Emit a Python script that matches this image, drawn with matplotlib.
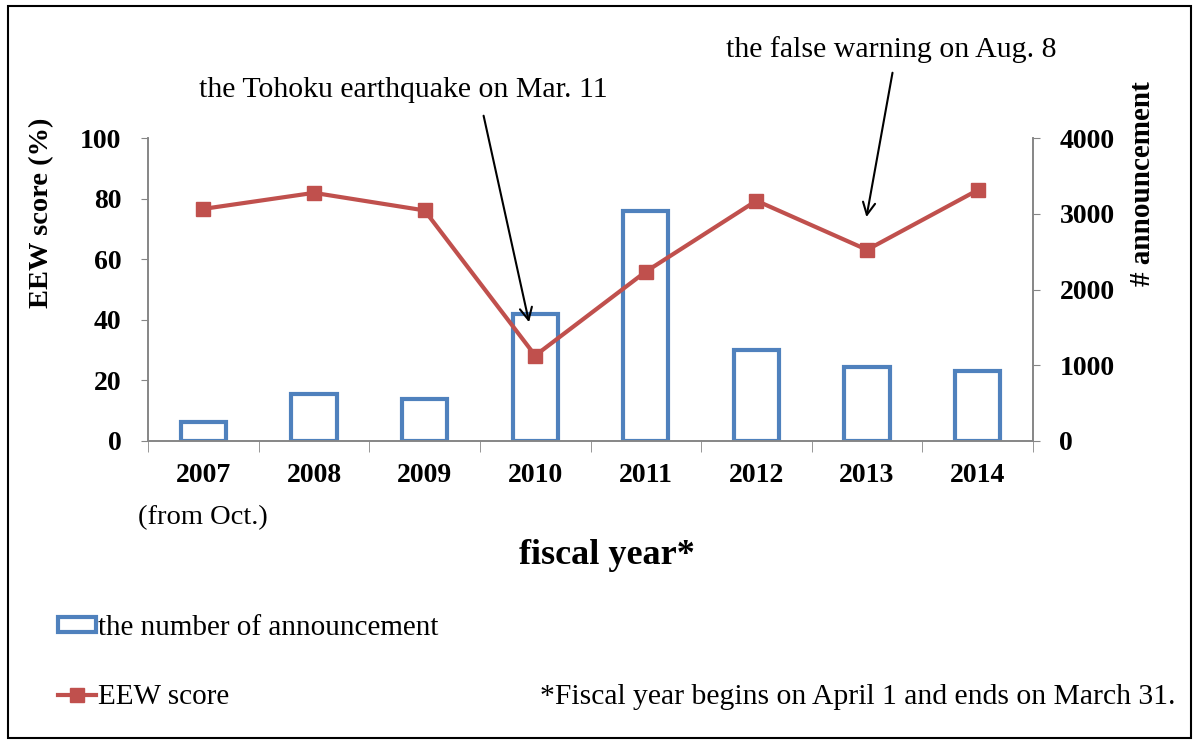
import matplotlib
matplotlib.use("Agg")
import matplotlib.pyplot as plt
from matplotlib.patches import Rectangle
from matplotlib.lines import Line2D

years = ["2007", "2008", "2009", "2010", "2011", "2012", "2013", "2014"]
announcements = [255, 620, 555, 1680, 3040, 1204, 981, 929]
eew_score = [76.6, 81.9, 76.1, 28.2, 55.9, 79.3, 63.1, 82.8]
left_ticks = [0, 20, 40, 60, 80, 100]
right_ticks = [0, 1000, 2000, 3000, 4000]

BLUE = "#4F81BD"
RED = "#C0504D"
GRAY = "#868686"
SERIF = ["Liberation Serif", "DejaVu Serif"]

plt.rcParams['font.family'] = SERIF

fig = plt.figure(figsize=(11.99, 7.40), dpi=100)
ax = fig.add_axes([148/1199, 1-441/740, (1033-148)/1199, (441-138)/740])
ax2 = ax.twinx()

x = list(range(len(years)))
ax2.bar(x, announcements, width=0.41, facecolor="white", edgecolor=BLUE, linewidth=3, zorder=1,
        label="the number of announcement")
ax.plot(x, eew_score, color=RED, linewidth=3, marker="s", markersize=10,
        markerfacecolor=RED, markeredgecolor=RED, zorder=5, label="EEW score")

ax.set_zorder(ax2.get_zorder() + 1)
ax.patch.set_visible(False)

ax.set_xlim(-0.5, len(years) - 0.5)
ax.set_ylim(0, 100)
ax2.set_ylim(0, 4000)
ax.set_yticks(left_ticks)
ax2.set_yticks(right_ticks)

ax.set_xticks(x)
ax.set_xticklabels(years, fontsize=20, fontweight="bold")
ax.tick_params(axis="x", which="major", length=0, pad=16)
ax.set_xticks([i - 0.5 for i in range(len(years) + 1)], minor=True)
ax.tick_params(axis="x", which="minor", length=8, color=GRAY, direction="out")

ax.tick_params(axis="y", length=5, color=GRAY, pad=14, labelsize=20)
ax2.tick_params(axis="y", length=5, color=GRAY, pad=14, labelsize=20)
for lab in ax.get_yticklabels() + ax2.get_yticklabels():
    lab.set_fontweight("bold")

for a in (ax, ax2):
    a.spines["top"].set_visible(False)
    for s in ("left", "right", "bottom"):
        a.spines[s].set_color(GRAY)
        a.spines[s].set_linewidth(1.2)

ax.set_ylabel("EEW score (%)", fontsize=20.5, fontweight="bold")
ax.yaxis.set_label_coords((42-148)/885, (441-213)/303)
ax.yaxis.label.set_va("center")
ax2.set_ylabel("# announcement", fontsize=21, fontweight="bold")
ax2.yaxis.set_label_coords((1142-148)/885, (441-184)/303)
ax2.yaxis.label.set_va("center")

ax.text(0, -0.254, "(from Oct.)", transform=ax.get_xaxis_transform(), ha="center", va="center",
        fontsize=20.5)
fig.text(607/1199, 1-555/740, "fiscal year*", ha="center", va="center", fontsize=26, fontweight="bold")

# annotations
fig.text(403/1199, 1-90/740, "the Tohoku earthquake on Mar. 11", ha="center", va="center", fontsize=21.5)
ax.annotate("", xy=(2.95, 38.3), xycoords="data", xytext=(483/1199, 1-113/740),
            textcoords="figure fraction",
            arrowprops=dict(arrowstyle="->", color="black", lw=1.5, mutation_scale=22))
fig.text(891/1199, 1-50/740, "the false warning on Aug. 8", ha="center", va="center", fontsize=21.5)
ax.annotate("", xy=(5.99, 73.0), xycoords="data", xytext=(893/1199, 1-70/740),
            textcoords="figure fraction",
            arrowprops=dict(arrowstyle="->", color="black", lw=1.5, mutation_scale=22))

# legend (two entries stacked)
h_bar = Rectangle((0, 0), 1, 1, facecolor="white", edgecolor=BLUE, linewidth=3)
h_line = Line2D([0], [0], color=RED, linewidth=3, marker="s", markersize=10,
                markerfacecolor=RED, markeredgecolor=RED)
leg_kw = dict(frameon=False, fontsize=21, handlelength=1.3, handleheight=0.4,
              handletextpad=0.07, borderaxespad=0, borderpad=0, loc="center left")
fig.legend([h_bar], ["the number of announcement"], bbox_to_anchor=(58/1199, 1-628/740), **leg_kw)
fig.legend([h_line], ["EEW score"], bbox_to_anchor=(58/1199, 1-697/740), **leg_kw)

fig.text(1175/1199, 1-697/740, "*Fiscal year begins on April 1 and ends on March 31.",
         ha="right", va="center", fontsize=21.3)

# outer frame
fig.patches.append(Rectangle((8/1199, 2/740), 1183/1199, 732/740, transform=fig.transFigure,
                             fill=False, edgecolor="black", linewidth=1.5))

fig.savefig("out.png", dpi=100)
